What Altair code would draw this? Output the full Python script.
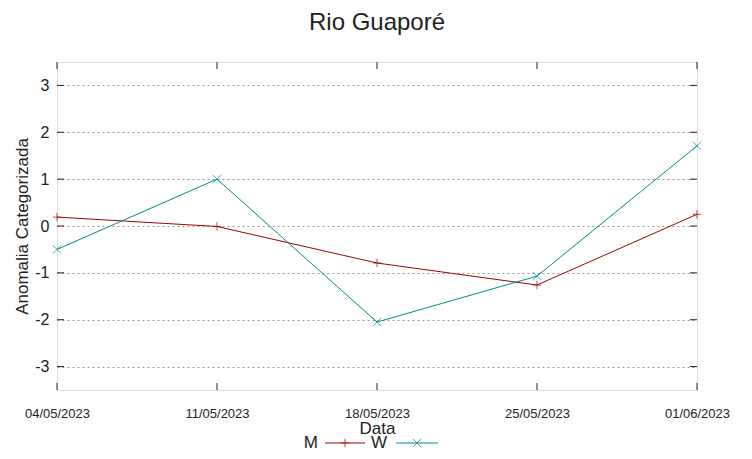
import altair as alt
import pandas as pd

dates = ["04/05/2023", "11/05/2023", "18/05/2023", "25/05/2023", "01/06/2023"]
m_vals = [0.19, -0.01, -0.79, -1.26, 0.25]
w_vals = [-0.50, 1.00, -2.05, -1.07, 1.71]
y_ticks = [-3, -2, -1, 0, 1, 2, 3]

RED = "#a00000"
TEAL = "#008b8b"
FONT = "Liberation Sans"
PLUS = "M-1,0H1M0,-1V1"
XSHAPE = "M-1,-1L1,1M-1,1L1,-1"

df = pd.DataFrame({"Data": dates * 2,
                   "v": m_vals + w_vals,
                   "s": ["M"] * 5 + ["W"] * 5})
yt = pd.DataFrame({"t": y_ticks})
xt = pd.DataFrame({"Data": dates})

xs = alt.Scale(type="point", domain=dates, padding=0)
ys = alt.Scale(domain=[-3.5, 3.5], nice=False, zero=False)

xenc = alt.X("Data:O", scale=xs, sort=dates,
             axis=alt.Axis(title="Data", labelAngle=0, labelFont=FONT, labelFontSize=13,
                           labelColor="#222", titleFont=FONT, titleFontSize=17,
                           titleFontWeight="normal", titleColor="#222", titlePadding=0,
                           labelPadding=17, ticks=False, domain=False, grid=False))
yenc = alt.Y("v:Q", scale=ys,
             axis=alt.Axis(title="Anomalia Categorizada", values=y_ticks, labelFont=FONT,
                           labelExpr="'' + datum.value",
                           labelFontSize=16, labelColor="#222", titleFont=FONT,
                           titleFontSize=17, titleFontWeight="normal", titleColor="#222",
                           titlePadding=3, labelPadding=8, ticks=False, domain=False,
                           grid=True, gridDash=[2, 3], gridColor="#999", gridWidth=1))

color = alt.Color("s:N", scale=alt.Scale(domain=["M", "W"], range=[RED, TEAL]), legend=None)
shape = alt.Shape("s:N", scale=alt.Scale(domain=["M", "W"], range=[PLUS, XSHAPE]), legend=None)

lines = alt.Chart(df).mark_line(strokeWidth=1).encode(x=xenc, y=yenc, color=color)
pts = alt.Chart(df).mark_point(filled=False, size=70, strokeWidth=1).encode(
    x=alt.X("Data:O", scale=xs, sort=dates), y=alt.Y("v:Q", scale=ys), color=color, shape=shape)

# inward ticks (mirrored)
ytl = alt.Chart(yt).mark_rule(color="#222").encode(
    y=alt.Y("t:Q", scale=ys), x=alt.value(0), x2=alt.value(7))
ytr = alt.Chart(yt).mark_rule(color="#222").encode(
    y=alt.Y("t:Q", scale=ys), x=alt.value(633), x2=alt.value(640))
xtb = alt.Chart(xt).mark_rule(color="#222").encode(
    x=alt.X("Data:O", scale=xs, sort=dates), y=alt.value(321), y2=alt.value(328))
xtt = alt.Chart(xt).mark_rule(color="#222").encode(
    x=alt.X("Data:O", scale=xs, sort=dates), y=alt.value(0), y2=alt.value(7))

# legend
legM_t = alt.Chart(pd.DataFrame({"lab": ["M"]})).mark_text(
    font=FONT, fontSize=17, align="right", baseline="middle", color="#222").encode(
    text="lab:N", x=alt.value(261), y=alt.value(381))
legW_t = alt.Chart(pd.DataFrame({"lab": ["W"]})).mark_text(
    font=FONT, fontSize=17, align="right", baseline="middle", color="#222").encode(
    text="lab:N", x=alt.value(330), y=alt.value(381))
legM_l = alt.Chart(pd.DataFrame({"lab": ["M"]})).mark_rule(color=RED, strokeWidth=1).encode(
    x=alt.value(268), x2=alt.value(308), y=alt.value(381))
legW_l = alt.Chart(pd.DataFrame({"lab": ["W"]})).mark_rule(color=TEAL, strokeWidth=1).encode(
    x=alt.value(339), x2=alt.value(381), y=alt.value(381))
legM_p = alt.Chart(pd.DataFrame({"lab": ["M"]})).mark_point(
    shape=PLUS, size=70, color=RED, filled=False, strokeWidth=1).encode(
    x=alt.value(288), y=alt.value(381))
legW_p = alt.Chart(pd.DataFrame({"lab": ["W"]})).mark_point(
    shape=XSHAPE, size=70, color=TEAL, filled=False, strokeWidth=1).encode(
    x=alt.value(360), y=alt.value(381))

chart = alt.layer(lines, pts, ytl, ytr, xtb, xtt,
                  legM_t, legW_t, legM_l, legW_l, legM_p, legW_p).properties(
    width=640, height=328,
    title=alt.TitleParams("Rio Guaporé", font=FONT, fontSize=24, fontWeight="normal",
                          color="#222", anchor="middle", offset=27),
    autosize=alt.AutoSizeParams(type="none"),
    padding={"left": 49, "top": 54, "right": 47, "bottom": 61},
).configure_view(stroke="#222", strokeWidth=1.2).configure(background="white")

chart.save("out.html", embed_options={"renderer": "svg", "actions": False})
